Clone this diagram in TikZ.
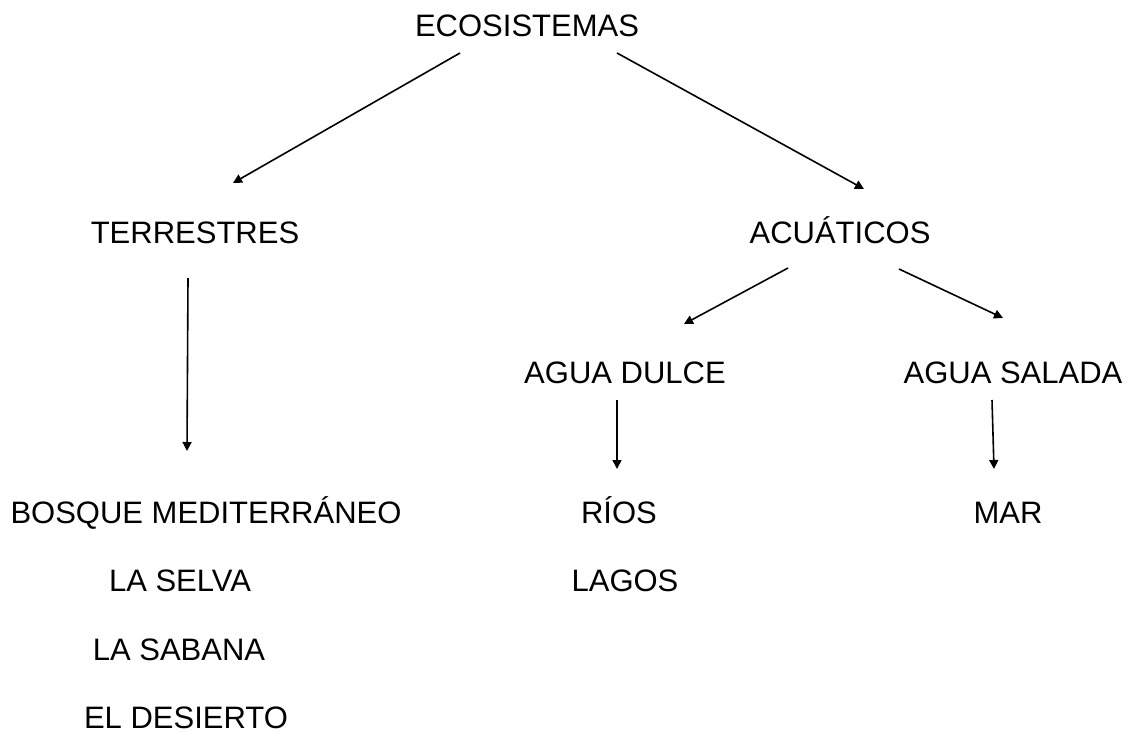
\documentclass[tikz,border=0pt]{standalone}
\usepackage{fontspec}
\setmainfont{Liberation Sans}
\usetikzlibrary{arrows.meta}

\tikzset{
    label/.style={anchor=base, inner sep=0pt, font=\fontsize{31}{37}\selectfont},
    link/.style={line width=1.6pt, -{Triangle[length=9pt, width=9pt]}}
}

\begin{document}
\begin{tikzpicture}[x=1pt, y=-1pt]
        \useasboundingbox (0, 0) rectangle (1131, 733);

        \node (eco) at (527, 37) [label] {ECOSISTEMAS};

        \node (ter) at (195, 243) [label] {TERRESTRES};
        \node (acu) at (840, 243) [label] {ACUÁTICOS};

        \node (dulce) at (625, 383) [label] {AGUA DULCE};
        \node (salada) at (1013, 383) [label] {AGUA SALADA};

        \node (bosque) at (206, 523) [label] {BOSQUE MEDITERRÁNEO};
        \node (selva) at (180, 591) [label] {LA SELVA};
        \node (sabana) at (179, 660) [label] {LA SABANA};
        \node (desierto) at (186, 728) [label] {EL DESIERTO};

        \node (rios) at (619, 523) [label] {RÍOS};
        \node (lagos) at (625, 591) [label] {LAGOS};

        \node (mar) at (1008, 523) [label] {MAR};

        \coordinate (eco-l) at (460, 53);
        \coordinate (eco-r) at (617, 53);
        \coordinate (ter-in) at (233, 183);
        \coordinate (acu-in) at (864, 189);
        \coordinate (ter-out) at (188, 278);
        \coordinate (bosque-in) at (187, 451);
        \coordinate (acu-l) at (788, 268);
        \coordinate (acu-r) at (899, 269);
        \coordinate (dulce-in) at (684, 324);
        \coordinate (salada-in) at (1003, 318);
        \coordinate (dulce-out) at (617, 400);
        \coordinate (rios-in) at (617, 469);
        \coordinate (salada-out) at (992, 400);
        \coordinate (mar-in) at (994, 469);

        \draw[link] (eco-l) -- (ter-in);
        \draw[link] (eco-r) -- (acu-in);
        \draw[link] (ter-out) -- (bosque-in);
        \draw[link] (acu-l) -- (dulce-in);
        \draw[link] (acu-r) -- (salada-in);
        \draw[link] (dulce-out) -- (rios-in);
        \draw[link] (salada-out) -- (mar-in);

    \end{tikzpicture}
\end{document}
